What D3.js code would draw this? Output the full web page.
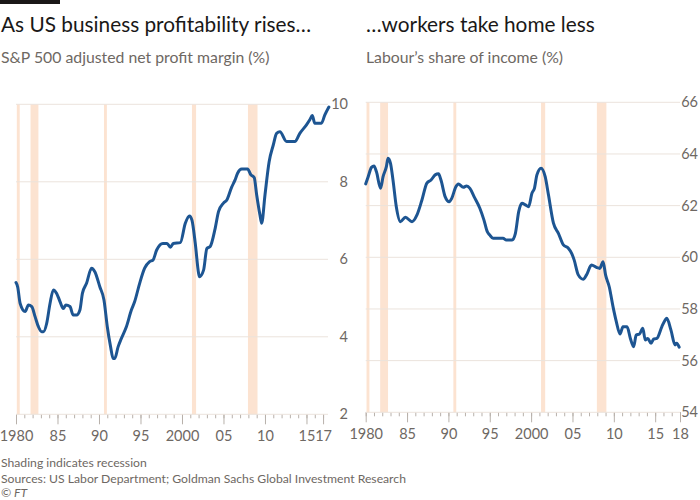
<!DOCTYPE html>
<html>
<head>
<meta charset="utf-8">
<script src="https://cdn.jsdelivr.net/npm/d3@7"></script>
<style>
  body { margin: 0; background: #fff; }
  svg { display: block; }
  text { font-family: Lato, "Noto Sans", sans-serif; }
</style>
</head>
<body>
<svg id="chart" width="700" height="500"></svg>
<script>
// ---- Data ----
const profitYears = [1980.0,1980.2,1980.5,1981.1,1981.5,1981.9,1982.3,1982.7,1983.1,1983.3,1983.7,1984.1,1984.5,1984.9,1985.3,1985.7,1986.0,1986.5,1986.9,1987.3,1987.7,1988.0,1988.5,1989.1,1989.5,1990.1,1990.6,1991.0,1991.4,1991.7,1991.9,1992.3,1992.7,1993.3,1993.9,1994.3,1994.9,1995.5,1996.1,1996.5,1996.95,1997.7,1998.2,1998.6,1998.95,1999.8,2000.4,2000.9,2001.2,2001.6,2002.0,2002.1,2002.6,2003.0,2003.4,2004.0,2004.4,2005.0,2005.4,2006.0,2006.4,2006.7,2007.2,2007.9,2008.3,2008.7,2009.0,2009.4,2009.6,2010.0,2010.5,2011.0,2011.4,2011.8,2012.6,2013.6,2014.2,2015.0,2015.4,2015.7,2016.0,2016.8,2017.2,2017.7];
const profitValues = [5.40,5.29,4.86,4.65,4.82,4.78,4.52,4.26,4.13,4.13,4.35,4.86,5.21,5.12,4.91,4.73,4.82,4.78,4.56,4.56,4.69,5.12,5.38,5.77,5.68,5.29,4.95,4.26,3.74,3.44,3.44,3.74,3.96,4.26,4.69,4.91,5.38,5.77,5.94,5.98,6.24,6.41,6.41,6.31,6.41,6.43,6.93,7.12,7.01,6.41,5.64,5.55,5.72,6.28,6.33,6.80,7.23,7.45,7.53,7.87,8.05,8.22,8.33,8.33,8.18,8.11,7.66,7.14,6.93,7.66,8.52,8.95,9.25,9.29,9.04,9.04,9.25,9.47,9.60,9.71,9.51,9.51,9.72,9.93];

const labourYears = [1980.0,1980.3,1980.7,1981.0,1981.3,1981.8,1982.1,1982.5,1982.7,1983.0,1983.3,1983.7,1984.2,1984.8,1985.6,1986.2,1986.8,1987.4,1987.9,1988.4,1988.8,1989.1,1989.6,1990.1,1990.4,1990.9,1991.2,1991.8,1992.2,1992.6,1993.1,1993.8,1994.3,1994.7,1995.0,1995.4,1996.0,1996.6,1997.0,1997.7,1998.1,1998.5,1998.9,1999.3,1999.7,2000.1,2000.4,2000.7,2001.2,2001.7,2002.1,2002.7,2003.3,2003.9,2004.5,2004.9,2005.2,2005.7,2006.3,2006.7,2007.3,2007.9,2008.3,2008.7,2009.0,2009.45,2009.9,2010.3,2010.75,2011.1,2011.6,2012.0,2012.4,2012.7,2013.1,2013.5,2013.8,2014.1,2014.5,2014.8,2015.2,2015.8,2016.2,2016.4,2016.9,2017.4,2017.6,2017.9];
const labourValues = [62.84,63.12,63.48,63.53,63.31,62.67,63.12,63.51,63.83,63.64,62.99,61.96,61.38,61.55,61.38,61.64,62.22,62.87,62.99,63.19,63.23,62.99,62.35,62.15,62.28,62.73,62.84,62.71,62.76,62.67,62.35,61.90,61.44,60.99,60.86,60.74,60.74,60.74,60.67,60.67,60.93,61.77,62.09,62.03,61.96,62.48,62.67,63.19,63.45,63.12,62.41,61.32,60.93,60.48,60.35,60.15,59.90,59.32,59.15,59.32,59.70,59.61,59.57,59.83,59.32,58.85,58.09,57.51,57.03,57.31,57.31,56.86,56.54,56.99,57.03,57.25,56.80,56.86,56.67,56.83,56.86,57.31,57.57,57.64,57.19,56.61,56.67,56.52];

const recessionStarts = [1980.1, 1981.75, 1990.6, 2001.2, 2007.95];
const recessionEnds   = [1980.45, 1982.7, 1990.95, 2001.7, 2009.1];

const profitTicks = [2, 4, 6, 8, 10];
const labourTicks = [54, 56, 58, 60, 62, 64, 66];
const profitXMajor = [1980, 1985, 1990, 1995, 2000, 2005, 2010, 2015, 2017];
const profitXLabels = ["1980", "85", "90", "95", "2000", "05", "10", "15", "17"];
const labourXMajor = [1980, 1985, 1990, 1995, 2000, 2005, 2010, 2015, 2018];
const labourXLabels = ["1980", "85", "90", "95", "2000", "05", "10", "15", "18"];

const titles = ["As US business profitability rises\u2026", "\u2026workers take home less"];
const subtitles = ["S&P 500 adjusted net profit margin (%)", "Labour\u2019s share of income (%)"];
const footnotes = ["Shading indicates recession", "Sources: US Labor Department; Goldman Sachs Global Investment Research", "\u00a9 FT"];

// ---- Styles ----
const LINE = "#1d5592";
const SHADE = "#fce3d1";
const GRID = "#ebe3dc";
const AXIS = "#b8b1ab";
const TEXT = "#6e6863";

const svg = d3.select("#chart");

// Top black bar
svg.append("rect").attr("x", 0).attr("y", 0).attr("width", 60).attr("height", 4).attr("fill", "#1a1817");

function panel(cfg) {
  const g = svg.append("g");
  const x = d3.scaleLinear().domain(cfg.xDomain).range(cfg.xRange);
  const y = d3.scaleLinear().domain(cfg.yDomain).range(cfg.yRange);

  // titles
  g.append("text").attr("x", cfg.titleX).attr("y", 32).attr("font-size", 20.8).attr("fill", "#1a1817").text(cfg.title);
  g.append("text").attr("x", cfg.titleX).attr("y", 63).attr("font-size", 15.8).attr("fill", TEXT).text(cfg.subtitle);

  // recession shading
  g.selectAll("rect.rec").data(cfg.recS.map((s, i) => [s, cfg.recE[i]])).join("rect")
    .attr("class", "rec")
    .attr("x", d => x(d[0])).attr("width", d => x(d[1]) - x(d[0]))
    .attr("y", y(cfg.yDomain[1])).attr("height", y(cfg.yDomain[0]) - y(cfg.yDomain[1]))
    .attr("fill", SHADE);

  // gridlines
  g.selectAll("line.grid").data(cfg.yTicks.slice(1)).join("line")
    .attr("class", "grid")
    .attr("x1", cfg.xRange[0]).attr("x2", cfg.gridEnd)
    .attr("y1", d => y(d)).attr("y2", d => y(d))
    .attr("stroke", GRID).attr("stroke-width", 1);

  // y labels
  g.selectAll("text.ylab").data(cfg.yTicks).join("text")
    .attr("class", "ylab")
    .attr("x", cfg.yLabelX).attr("y", d => y(d)).attr("dy", "0.35em")
    .attr("text-anchor", "end").attr("font-size", 14.5).attr("fill", TEXT)
    .text(d => d);

  // x axis
  const axisY = y(cfg.yDomain[0]);
  const minor = d3.range(cfg.xDomain[0], Math.floor(cfg.xDomain[1]) + 1);
  const xAxisMinor = d3.axisBottom(x).tickValues(minor).tickSize(4).tickFormat("");
  const ga = g.append("g").attr("transform", `translate(0,${axisY})`).call(xAxisMinor);
  ga.select(".domain").remove();
  ga.selectAll("line").attr("stroke", AXIS);
  const xAxisMajor = d3.axisBottom(x).tickValues(cfg.xMajor).tickSize(10).tickPadding(6)
    .tickFormat((d, i) => cfg.xLabels[i]);
  const gb = g.append("g").attr("transform", `translate(0,${axisY})`).call(xAxisMajor);
  gb.select(".domain").remove();
  gb.selectAll("line").attr("stroke", AXIS);
  gb.selectAll("text").attr("font-size", 14.5).attr("fill", TEXT).attr("font-family", "Lato, sans-serif");
  g.append("line").attr("x1", cfg.xRange[0]).attr("x2", cfg.gridEnd)
    .attr("y1", axisY).attr("y2", axisY).attr("stroke", GRID).attr("stroke-width", 1);

  // line
  const pts = cfg.xs.map((d, i) => [d, cfg.vs[i]]);
  g.append("path").datum(pts)
    .attr("fill", "none").attr("stroke", LINE).attr("stroke-width", 3)
    .attr("stroke-linejoin", "round").attr("stroke-linecap", "round")
    .attr("d", d3.line().x(d => x(d[0])).y(d => y(d[1])).curve(d3.curveMonotoneX));
}

panel({
  xDomain: [1980, 2017.75], xRange: [16, 329.3], gridEnd: 328,
  yDomain: [2, 10], yRange: [414.3, 104.3], yTicks: profitTicks, yLabelX: 348,
  xMajor: profitXMajor, xLabels: profitXLabels,
  recS: recessionStarts, recE: recessionEnds,
  xs: profitYears, vs: profitValues,
  title: titles[0], subtitle: subtitles[0], titleX: 1
});

panel({
  xDomain: [1980, 2018], xRange: [365.7, 680], gridEnd: 680,
  yDomain: [54, 66], yRange: [412.3, 102.3], yTicks: labourTicks, yLabelX: 698,
  xMajor: labourXMajor, xLabels: labourXLabels,
  recS: recessionStarts, recE: recessionEnds,
  xs: labourYears, vs: labourValues,
  title: titles[1], subtitle: subtitles[1], titleX: 366
});

// footnotes
svg.selectAll("text.foot").data(footnotes).join("text")
  .attr("class", "foot")
  .attr("x", 1).attr("y", (d, i) => [466.5, 482.5, 497][i])
  .attr("font-size", 12.2).attr("fill", TEXT)
  .attr("font-style", (d, i) => i === 2 ? "italic" : null)
  .text(d => d);
</script>
</body>
</html>
